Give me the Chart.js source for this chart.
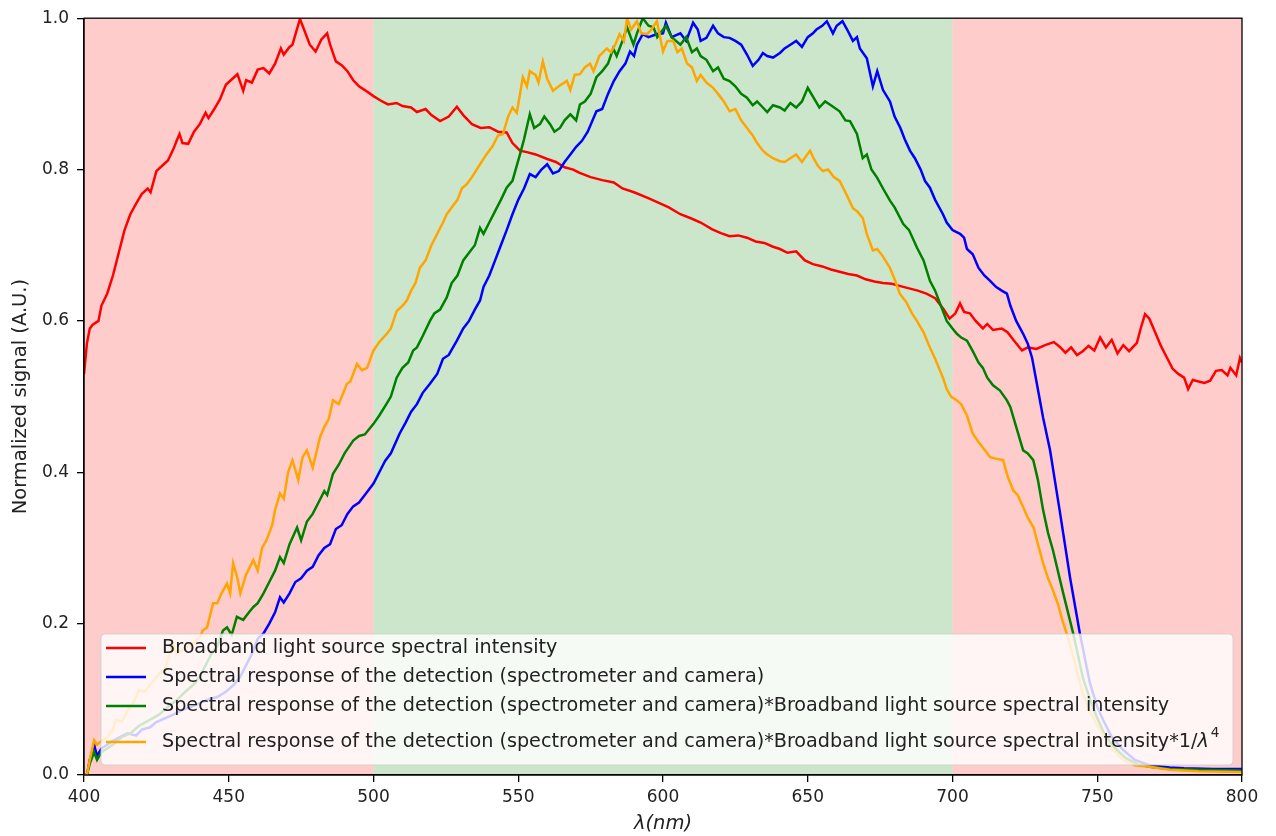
<!DOCTYPE html>
<html>
<head>
<meta charset="utf-8">
<script src="https://cdn.jsdelivr.net/npm/chart.js@4"></script>
<style>
  html, body { margin:0; padding:0; background:#fff; }
  #wrap { width:1276px; height:836px; position:relative; }
</style>
</head>
<body>
<div id="wrap"><canvas id="c"></canvas></div>
<script>
// wavelength (nm) / normalized value pairs
const redNm = [400,401,402,403,405,406,408,410,412,414,416,418,420,422,423,425,427,429,431,432,433,434,436,438,440,442,443,445,447,449,451,453,455,456,458,460,462,464,466,468,469,471,472,474.6,476,478,480,482,484,485,487,489,491,493,495,497,500,503,505,508,510,513,515,518,520,523,526,528.8,531,534,537,540,543,546,548,550.6,553,556,560,563,566,569,571,575,579,583,586,590,594.5,598,602,606,610,613,617,620,623,626,629,632,635,638,640.4,643,646,649,651.8,655,658,661,664,667,670,673,676,679,682,685,688,691,694,697,699,701,702.6,704,706,708,710.5,712,714,717,719,721,724,726,729,732,735,737,739,741,743,745,747,749,751,753,755,757,759,761,763.7,765,766.5,768,770,772,774,776,778,780,781.4,783,785,787,789,791,793,795,796,798,799.3,800];
const redVal = [0.53,0.57,0.59,0.595,0.60,0.62,0.636,0.66,0.69,0.72,0.741,0.755,0.768,0.775,0.77,0.798,0.805,0.812,0.828,0.838,0.847,0.835,0.834,0.85,0.86,0.875,0.868,0.88,0.893,0.912,0.919,0.926,0.904,0.918,0.915,0.932,0.934,0.927,0.94,0.96,0.952,0.962,0.965,0.999,0.985,0.965,0.956,0.972,0.98,0.965,0.943,0.938,0.93,0.918,0.91,0.905,0.897,0.89,0.886,0.888,0.884,0.882,0.876,0.88,0.872,0.864,0.87,0.883,0.872,0.86,0.855,0.856,0.85,0.849,0.835,0.825,0.823,0.82,0.814,0.81,0.803,0.80,0.796,0.79,0.786,0.783,0.775,0.77,0.763,0.757,0.75,0.741,0.735,0.73,0.721,0.716,0.712,0.713,0.71,0.705,0.703,0.698,0.695,0.69,0.692,0.68,0.675,0.672,0.668,0.665,0.662,0.66,0.655,0.652,0.65,0.649,0.646,0.643,0.64,0.636,0.63,0.615,0.603,0.61,0.623,0.612,0.61,0.60,0.59,0.596,0.588,0.59,0.585,0.575,0.561,0.565,0.563,0.568,0.572,0.566,0.558,0.565,0.555,0.56,0.567,0.561,0.578,0.565,0.575,0.557,0.568,0.56,0.571,0.59,0.609,0.603,0.585,0.567,0.552,0.537,0.53,0.525,0.51,0.522,0.52,0.518,0.521,0.534,0.535,0.528,0.538,0.528,0.551,0.545];

const blueNm = [400,401,402,403.5,404.5,406,408,410,412.4,415,418,420,422.8,425,428,431,434,437,440,443,446,449,452,454,456,458,460,462,464,466,467.7,469,471,473,475,477,479,481,483,485,487,489,491,493,495,497,500,502,504,506,509,511,513,515,517,519.5,522,524,526,528.8,531,533,535,536.8,538,540,542,544,546,548,550,552,554,556,558,560,562,564,566,568,570,572,574,577,579,581,583,585,587,588.6,590,591,593,595,598,600,601,603,606,608,610.4,612,613,615,617.3,619,621,623,625,627,629,631,633,634.5,636,638,640.4,642,644,646,648,650,651.8,653,655,656.6,658.7,660,662,663.6,665.6,667,668,670.4,672.5,674,676,678.4,680,682,683.5,685.3,687,689,690.5,692.2,694,696.7,698,700,702.6,704,705,707,709,711,713,715,717,718.8,720,722,724.4,726,727.5,729,731.3,733.7,737,740.6,744,747.5,750,752,755,759,763,768,775,780,790,800];
const blueVal = [0,0,0.02,0.04,0.025,0.035,0.04,0.045,0.05,0.055,0.052,0.06,0.063,0.07,0.075,0.08,0.086,0.09,0.095,0.1,0.103,0.11,0.12,0.13,0.145,0.16,0.18,0.187,0.2,0.215,0.235,0.228,0.24,0.255,0.26,0.27,0.275,0.29,0.3,0.305,0.325,0.33,0.345,0.355,0.36,0.37,0.385,0.4,0.415,0.425,0.451,0.465,0.48,0.49,0.505,0.517,0.53,0.55,0.555,0.574,0.59,0.6,0.615,0.627,0.645,0.66,0.68,0.7,0.72,0.741,0.76,0.775,0.794,0.79,0.8,0.807,0.795,0.798,0.81,0.82,0.83,0.838,0.85,0.877,0.88,0.9,0.917,0.93,0.94,0.956,0.95,0.965,0.979,0.975,0.979,0.98,0.994,0.975,0.98,0.97,0.994,0.985,0.97,0.974,0.99,0.98,0.975,0.974,0.97,0.965,0.952,0.937,0.945,0.954,0.95,0.948,0.954,0.96,0.965,0.97,0.962,0.975,0.98,0.985,0.99,0.996,0.98,0.99,0.996,0.985,0.97,0.975,0.96,0.947,0.91,0.93,0.905,0.89,0.87,0.855,0.84,0.825,0.815,0.8,0.785,0.776,0.76,0.741,0.73,0.72,0.715,0.71,0.695,0.688,0.67,0.66,0.653,0.645,0.64,0.636,0.62,0.60,0.583,0.57,0.551,0.52,0.472,0.429,0.35,0.261,0.187,0.121,0.09,0.073,0.05,0.033,0.02,0.013,0.01,0.009,0.008,0.008];

const greenNm = [400,401,402,403.5,404.5,406,408,410,413,416,419,422.8,426,429,432,435,438,440,442,444,446,448,449.4,451,452.8,455,457,458.5,460,462,464,466,467.7,469,471,473.6,475,477,479,481,483,484,486,488,490,493,495,497,500,502,504.6,506,508,510,512,513.7,515,517,519.5,521,523,525.3,527,529,531,533,535,536.8,538,540,542,544,546,548,550.6,552,554,555.5,557.5,559,561,562.5,564.4,566,568,570,571.3,573,575,577,579,581,582.8,584,586,587.6,589.8,591,593,595,596.7,598,600,601,603,606,608,610,611.7,613,615,617.3,619,621,623,625,627,629,631,632.5,634.5,636,638,640.4,642,644,646,648,650,652,654,656,658,661,663,664.6,667,669,670.4,672,674,676,678.4,680,683,685,687.7,690,692.2,694,696.7,698,700,701.5,703,705,707,709,710.5,712,714,716.4,718.8,720,722,724.4,726,727.9,729.5,731.3,733,734.7,738,741.7,745,747.5,749.8,753,756.8,760,764,768,775,785,800];
const greenVal = [0,0,0.015,0.03,0.02,0.03,0.035,0.04,0.05,0.055,0.065,0.073,0.08,0.09,0.099,0.11,0.12,0.13,0.145,0.16,0.17,0.191,0.195,0.185,0.209,0.205,0.215,0.222,0.227,0.24,0.255,0.27,0.288,0.28,0.305,0.327,0.31,0.335,0.345,0.36,0.375,0.37,0.398,0.41,0.425,0.442,0.448,0.45,0.464,0.475,0.491,0.5,0.525,0.538,0.545,0.561,0.565,0.58,0.6,0.61,0.615,0.631,0.65,0.66,0.68,0.69,0.7,0.723,0.715,0.73,0.745,0.76,0.776,0.785,0.82,0.84,0.873,0.855,0.86,0.87,0.86,0.85,0.855,0.865,0.873,0.865,0.886,0.89,0.9,0.922,0.93,0.94,0.96,0.95,0.97,0.988,0.965,0.98,1.0,0.99,0.988,0.975,0.985,0.99,0.975,0.965,0.975,0.955,0.96,0.95,0.945,0.93,0.935,0.92,0.917,0.91,0.9,0.895,0.885,0.89,0.882,0.876,0.885,0.882,0.878,0.888,0.882,0.89,0.908,0.895,0.882,0.89,0.885,0.877,0.865,0.864,0.847,0.815,0.82,0.8,0.789,0.775,0.759,0.75,0.728,0.72,0.697,0.68,0.653,0.64,0.613,0.6,0.59,0.583,0.578,0.574,0.56,0.545,0.538,0.525,0.515,0.508,0.495,0.486,0.46,0.429,0.425,0.416,0.39,0.35,0.32,0.297,0.244,0.187,0.129,0.1,0.077,0.05,0.033,0.022,0.014,0.011,0.008,0.007,0.006];

const orangeNm = [400,401,402,403.5,404.5,406,408,410,411,413,415,417,419,421,423,426,428,430.7,432,434,436,438,440,441,442.5,443.5,444.6,446,447.5,449.4,450.5,451.5,453,454,456,458.5,460,461.5,463,465,466,467.7,469,470.5,472,474,475.5,477,479,481.5,483,484.5,486,488,490.8,492,494.3,496,497.8,500,502,504.6,506,508,510,511.5,513,514.5,516,518,520,522,524,525.3,527,529,530.5,532.3,534,536.8,539,541,543,544.7,546.5,548,549.5,551.6,553,554,556,557,558.5,560,562,564,566.8,568,569.5,571.3,573,574.8,576,578,580.6,582,583.5,585,586.5,587.6,589,591,592.5,594.5,596,597.9,599,600,601.5,603.5,605,606.5,608.3,610,611.7,613,615,617.3,619,621,623,625,627,629,631,632.5,634.5,636,638,640.4,642,644,646,648,650.8,652,653.5,655.2,657,659,661,663,665.6,667,669,670.4,672.5,674,676,678.4,680,681.8,684,686,687.7,690,692.2,694,696.7,698,699.5,701.5,703,705,707,709,711,713,715,717.5,719,721,722.5,724.4,726,728,729.5,731.3,733,734.7,736.5,738,740,741.7,743.5,745,748,751,755,759,763,768,775,785,800];
const orangeVal = [0,0,0.02,0.046,0.04,0.045,0.05,0.06,0.073,0.07,0.085,0.095,0.112,0.11,0.12,0.134,0.14,0.174,0.16,0.165,0.17,0.175,0.182,0.191,0.195,0.21,0.227,0.227,0.24,0.253,0.24,0.28,0.26,0.24,0.265,0.284,0.27,0.3,0.31,0.33,0.35,0.372,0.365,0.4,0.416,0.39,0.42,0.429,0.406,0.446,0.46,0.47,0.495,0.49,0.517,0.52,0.543,0.535,0.538,0.561,0.572,0.583,0.59,0.613,0.62,0.627,0.64,0.65,0.67,0.68,0.7,0.715,0.73,0.741,0.75,0.76,0.775,0.781,0.79,0.807,0.82,0.83,0.845,0.847,0.87,0.882,0.875,0.922,0.91,0.93,0.925,0.915,0.943,0.92,0.904,0.91,0.917,0.905,0.925,0.926,0.935,0.94,0.93,0.95,0.96,0.955,0.965,0.979,0.97,1.0,0.985,0.996,0.98,0.979,0.985,0.996,0.975,0.956,0.97,0.97,0.955,0.96,0.94,0.935,0.917,0.925,0.915,0.908,0.9,0.89,0.877,0.88,0.865,0.855,0.845,0.835,0.825,0.82,0.815,0.811,0.81,0.815,0.82,0.81,0.825,0.815,0.805,0.798,0.8,0.79,0.785,0.77,0.749,0.745,0.736,0.715,0.693,0.695,0.685,0.67,0.655,0.636,0.625,0.61,0.60,0.585,0.565,0.55,0.525,0.51,0.50,0.495,0.49,0.475,0.451,0.44,0.43,0.42,0.418,0.416,0.395,0.376,0.37,0.354,0.34,0.327,0.305,0.28,0.26,0.244,0.225,0.204,0.18,0.156,0.13,0.108,0.08,0.059,0.035,0.02,0.013,0.011,0.007,0.005,0.004];

const labels = [
  'Broadband light source spectral intensity',
  'Spectral response of the detection (spectrometer and camera)',
  'Spectral response of the detection (spectrometer and camera)*Broadband light source spectral intensity',
  'Spectral response of the detection (spectrometer and camera)*Broadband light source spectral intensity*1/λ⁴'
];
const colors = ['#ff0000', '#0000ff', '#008000', '#ffa500'];

// shaded wavelength bands
const bandFrom = [400, 500, 700];
const bandTo = [500, 700, 800];
const bandColor = ['rgba(255,0,0,0.2)', 'rgba(0,128,0,0.2)', 'rgba(255,0,0,0.2)'];

const xTicks = [400, 450, 500, 550, 600, 650, 700, 750, 800];

const FONT = 'DejaVu Sans';
const TXT = '#222';

function pts(xs, ys){ return xs.map((x,i)=>({x, y: ys[i]})); }

const bands = {
  id: 'bands',
  beforeDatasetsDraw(chart){
    const {ctx, chartArea:a, scales:{x}} = chart;
    ctx.save();
    for (let i=0;i<bandFrom.length;i++){
      const x0 = x.getPixelForValue(bandFrom[i]), x1 = x.getPixelForValue(bandTo[i]);
      ctx.fillStyle = bandColor[i];
      ctx.fillRect(x0, a.top, x1-x0, a.bottom-a.top);
    }
    ctx.restore();
  }
};

// matplotlib-like legend drawn inside the axes, over the curves
const boxLegend = {
  id: 'boxLegend',
  afterDatasetsDraw(chart){
    const {ctx} = chart;
    const bx = 101, by = 634, bw = 1132, bh = 131, r = 4;
    ctx.save();
    ctx.beginPath();
    ctx.roundRect(bx, by, bw, bh, r);
    ctx.fillStyle = 'rgba(255,255,255,0.8)';
    ctx.fill();
    ctx.strokeStyle = 'rgba(204,204,204,0.8)';
    ctx.lineWidth = 1;
    ctx.stroke();
    const rows = [648, 677, 706, 742];
    chart.data.datasets.forEach((ds,i)=>{
      const y = rows[i];
      ctx.strokeStyle = ds.borderColor; ctx.lineWidth = 2.5;
      ctx.beginPath(); ctx.moveTo(106, y); ctx.lineTo(146, y); ctx.stroke();
      ctx.fillStyle = TXT; ctx.textBaseline = 'middle'; ctx.textAlign = 'left';
      ctx.font = `19.2px "${FONT}"`;
      let t = ds.label;
      if (t.endsWith('λ⁴')){
        const base = t.slice(0, -2);
        ctx.fillText(base, 162, y);
        let w = ctx.measureText(base).width;
        ctx.font = `italic 19.2px "${FONT}"`;
        ctx.fillText('λ', 162 + w, y);
        w += ctx.measureText('λ').width + 2;
        ctx.font = `13.5px "${FONT}"`;
        ctx.fillText('4', 162 + w, y - 9);
      } else {
        ctx.fillText(t, 162, y);
      }
    });
    ctx.restore();
  }
};

const frame = {
  id: 'frame',
  afterDraw(chart){
    const {ctx, chartArea:a} = chart;
    ctx.save();
    ctx.strokeStyle = '#000'; ctx.lineWidth = 1.3;
    ctx.strokeRect(a.left, a.top, a.right-a.left, a.bottom-a.top);
    ctx.restore();
  }
};

const series = [[redNm,redVal],[blueNm,blueVal],[greenNm,greenVal],[orangeNm,orangeVal]];

new Chart(document.getElementById('c'), {
  type: 'scatter',
  data: {
    datasets: series.map((s,i)=>({
      label: labels[i],
      data: pts(s[0], s[1]),
      showLine: true,
      borderColor: colors[i],
      backgroundColor: colors[i],
      borderWidth: 2.5,
      pointRadius: 0,
      tension: 0,
      order: 3 - i
    }))
  },
  options: {
    responsive: true, maintainAspectRatio: false, animation: false,
    layout: { padding: { top: 17, right: 34, left: 0, bottom: 0 } },
    plugins: { legend: { display: false }, tooltip: { enabled: false } },
    scales: {
      x: {
        type: 'linear', min: 400, max: 800,
        afterFit: s => { s.height = 61; },
        afterBuildTicks: s => { s.ticks = xTicks.map(v=>({value:v})); },
        ticks: { color: TXT, font: { family: FONT, size: 17 }, padding: 5, maxRotation: 0 },
        grid: { drawOnChartArea: false, tickLength: 7, color: '#000', lineWidth: 1.3 },
        border: { color: '#000', width: 1.3 },
        title: { display: true, text: 'λ(nm)', color: TXT, font: { family: FONT, size: 19.5, style: 'italic' }, padding: { top: 0, bottom: 0 } }
      },
      y: {
        min: 0, max: 1,
        afterFit: s => { s.width = 84; },
        ticks: { stepSize: 0.2, color: TXT, font: { family: FONT, size: 17 }, padding: 8, callback: v => v.toFixed(1) },
        grid: { drawOnChartArea: false, tickLength: 7, color: '#000', lineWidth: 1.3 },
        border: { color: '#000', width: 1.3 },
        title: { display: true, text: 'Normalized signal (A.U.)', color: TXT, font: { family: FONT, size: 19.5 }, padding: { top: 9, bottom: 0 } }
      }
    }
  },
  plugins: [bands, boxLegend, frame]
});
</script>
</body>
</html>
